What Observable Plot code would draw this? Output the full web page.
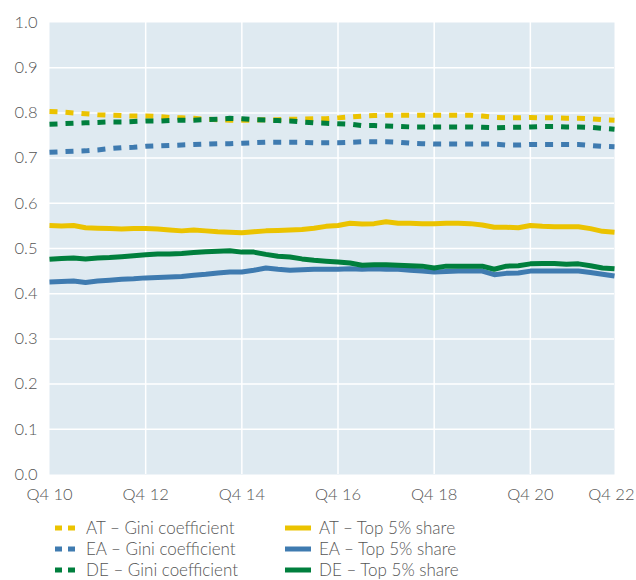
<!DOCTYPE html>
<html>
<head>
<meta charset="utf-8">
<script src="https://cdn.jsdelivr.net/npm/d3@7"></script>
<script src="https://cdn.jsdelivr.net/npm/@observablehq/plot@0.6"></script>
<style>
  html, body { margin: 0; padding: 0; background: #fff; }
  body { width: 636px; height: 580px; overflow: hidden; font-family: Lato, "Open Sans", sans-serif; font-weight: 300; color: #555; }
  #chart svg { display: block; }
  .legend { position: relative; height: 70px; font-size: 17px; }
  .item { position: absolute; display: flex; align-items: center; height: 20px; line-height: 20px; white-space: nowrap; }
  .item svg { margin-right: 8px; }
</style>
</head>
<body>
<div id="chart"></div>
<div class="legend" id="legend"></div>
<script>
// Quarter index 0 = Q4 2010 ... 47 = Q3 2022
const tickPositions = [0, 8, 16, 24, 32, 40, 47];
const tickLabels = ["Q4 10", "Q4 12", "Q4 14", "Q4 16", "Q4 18", "Q4 20", "Q4 22"];
const yTicks = [0, 0.1, 0.2, 0.3, 0.4, 0.5, 0.6, 0.7, 0.8, 0.9, 1.0];

const seriesNames = ["AT – Gini coefficient", "EA – Gini coefficient", "DE – Gini coefficient",
                     "AT – Top 5% share", "EA – Top 5% share", "DE – Top 5% share"];
const seriesColors = ["#ebc300", "#3f7bb0", "#007f3d", "#ebc300", "#3f7bb0", "#007f3d"];
const seriesDashed = [true, true, true, false, false, false];

const atGini = [.803,.802,.800,.798,.796,.795,.794,.793,.793,.792,.790,.789,.788,.786,.785,.784,.784,.784,.785,.785,.786,.786,.787,.787,.789,.791,.793,.794,.795,.795,.795,.795,.795,.795,.795,.795,.793,.790,.789,.789,.790,.789,.789,.788,.788,.787,.785,.784];
const eaGini = [.713,.714,.715,.716,.718,.721,.723,.724,.726,.727,.728,.729,.730,.731,.732,.732,.733,.734,.735,.735,.735,.735,.734,.734,.734,.735,.736,.736,.736,.735,.733,.732,.731,.731,.731,.731,.731,.731,.729,.729,.730,.730,.730,.730,.730,.728,.726,.725];
const deGini = [.775,.776,.777,.778,.779,.780,.780,.781,.782,.782,.783,.784,.784,.785,.786,.788,.787,.785,.784,.783,.782,.780,.778,.777,.776,.775,.772,.772,.771,.770,.769,.769,.769,.769,.769,.769,.768,.767,.768,.768,.769,.770,.770,.769,.769,.768,.766,.764];
const atTop5 = [.551,.550,.551,.546,.545,.544,.543,.544,.544,.543,.541,.539,.541,.539,.537,.536,.535,.537,.539,.540,.541,.542,.545,.549,.551,.556,.554,.555,.559,.556,.556,.555,.555,.556,.556,.555,.552,.547,.547,.546,.551,.549,.548,.548,.548,.544,.538,.536];
const eaTop5 = [.426,.427,.428,.425,.428,.430,.432,.433,.435,.436,.437,.438,.441,.443,.446,.448,.448,.452,.457,.454,.452,.453,.454,.454,.454,.455,.454,.455,.454,.454,.452,.450,.448,.449,.450,.450,.450,.442,.445,.446,.450,.450,.450,.450,.450,.447,.443,.439];
const deTop5 = [.476,.478,.479,.477,.479,.480,.482,.484,.486,.488,.488,.489,.491,.493,.494,.495,.492,.492,.487,.483,.481,.477,.474,.472,.470,.468,.463,.464,.464,.463,.462,.461,.457,.461,.461,.461,.461,.454,.461,.462,.466,.467,.467,.465,.466,.462,.457,.455];

const seriesValues = [atGini, eaGini, deGini, atTop5, eaTop5, deTop5];

const lineMarks = seriesValues.map((vals, k) =>
  Plot.line(vals.map((v, i) => ({q: i, v})), {
    x: "q", y: "v",
    stroke: seriesColors[k],
    strokeWidth: 5,
    strokeDasharray: seriesDashed[k] ? "8,8" : null,
    strokeLinecap: "butt",
    strokeLinejoin: "round"
  })
);

const labelOf = d => tickLabels[tickPositions.indexOf(d)];

const chart = Plot.plot({
  width: 636,
  height: 508,
  marginLeft: 49,
  marginRight: 22,
  marginTop: 22,
  marginBottom: 34,
  style: { fontFamily: "Lato, 'Open Sans', sans-serif", fontSize: "16.5px", fontWeight: 300, color: "#555", background: "#fff" },
  x: { domain: [0, 47] },
  y: { domain: [0, 1] },
  marks: [
    Plot.frame({ fill: "#dfeaf1", stroke: null }),
    Plot.gridX([8, 16, 24, 32, 40], { stroke: "#fff", strokeOpacity: 1, strokeWidth: 1.5 }),
    Plot.gridY([0.1, 0.2, 0.3, 0.4, 0.5, 0.6, 0.7, 0.8, 0.9], { stroke: "#fff", strokeOpacity: 1, strokeWidth: 1.5 }),
    ...lineMarks,
    Plot.axisY(yTicks, { tickSize: 0, tickPadding: 12, tickFormat: d => d.toFixed(1), fill: "#555", label: null }),
    Plot.axisX(tickPositions.slice(0, -1), { tickSize: 0, tickPadding: 14, tickFormat: labelOf, fill: "#555", label: null }),
    Plot.axisX(tickPositions.slice(-1), { tickSize: 0, tickPadding: 14, tickFormat: labelOf, fill: "#555", label: null, textAnchor: "end", dx: 20 })
  ]
});
document.getElementById("chart").appendChild(chart);

// Legend
const legend = document.getElementById("legend");
const legendPos = [
  {left: 55, top: 10}, {left: 55, top: 31}, {left: 55, top: 52},
  {left: 285, top: 10}, {left: 285, top: 31}, {left: 285, top: 52}
];
seriesNames.forEach((name, k) => {
  const item = document.createElement("div");
  item.className = "item";
  item.style.left = legendPos[k].left + "px";
  item.style.top = legendPos[k].top + "px";
  const w = seriesDashed[k] ? 22 : 26;
  const dash = seriesDashed[k] ? 'stroke-dasharray="7,6"' : "";
  item.innerHTML = `<svg width="${w}" height="10"><line x1="0" x2="${w}" y1="5" y2="5" stroke="${seriesColors[k]}" stroke-width="5" ${dash}></line></svg><span>${name}</span>`;
  if (seriesDashed[k]) item.querySelector("svg").style.marginRight = "9px";
  legend.appendChild(item);
});
</script>
</body>
</html>
